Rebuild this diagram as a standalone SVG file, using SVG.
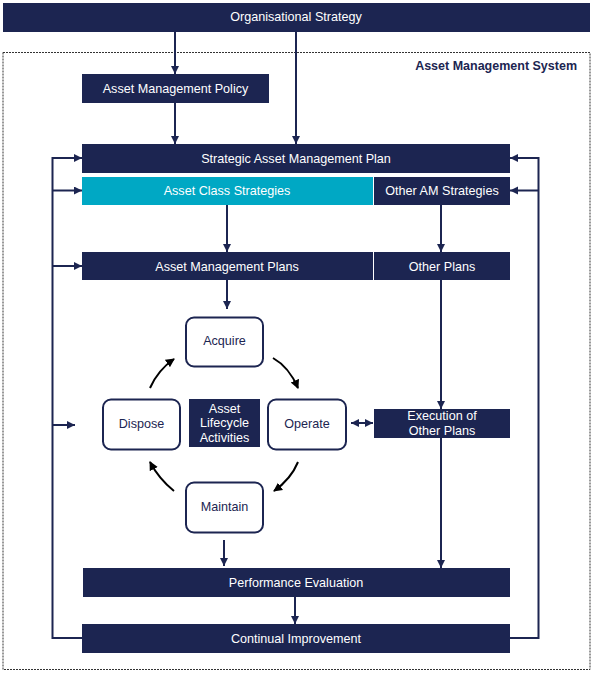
<svg xmlns="http://www.w3.org/2000/svg" width="594" height="675" viewBox="0 0 594 675">
<style>
.bar{fill:#1c2551}
.cyan{fill:#00a8c4}
.wt{fill:#fff;font-family:"Liberation Sans",Arial,sans-serif;font-size:12.6px;text-anchor:middle}
.nt{fill:#1c2551;font-family:"Liberation Sans",Arial,sans-serif;font-size:12.6px;text-anchor:middle}
.rr{fill:#fff;stroke:#1c2551;stroke-width:2}
.ln{fill:none;stroke:#1c2551;stroke-width:2}
.cv{fill:none;stroke:#000;stroke-width:2}
</style>
<defs>
<marker id="ah" markerUnits="userSpaceOnUse" markerWidth="9" markerHeight="9" refX="8" refY="4" orient="auto"><path d="M0,0 L8,4 L0,8 z" fill="#1c2551"/></marker>
<marker id="ahs" markerUnits="userSpaceOnUse" markerWidth="9" markerHeight="9" refX="0" refY="4" orient="auto"><path d="M8,0 L0,4 L8,8 z" fill="#1c2551"/></marker>
<marker id="bh" markerUnits="userSpaceOnUse" markerWidth="10" markerHeight="10" refX="8" refY="4.5" orient="auto"><path d="M0,0 L9,4.5 L0,9 z" fill="#000"/></marker>
</defs>
<rect width="594" height="675" fill="#fff"/>
<rect x="3" y="52.5" width="587" height="617" fill="none" stroke="#333" stroke-width="1" stroke-dasharray="2,1"/>
<text x="577" y="70" font-family="'Liberation Sans',Arial,sans-serif" font-size="12.5" font-weight="bold" fill="#1c2551" text-anchor="end">Asset Management System</text>

<g id="connectors">
<line class="ln" x1="175" y1="32" x2="175" y2="74" marker-end="url(#ah)"/>
<line class="ln" x1="296" y1="32" x2="296" y2="144" marker-end="url(#ah)"/>
<line class="ln" x1="175" y1="103" x2="175" y2="144" marker-end="url(#ah)"/>
<line class="ln" x1="227" y1="205" x2="227" y2="252" marker-end="url(#ah)"/>
<line class="ln" x1="441" y1="205" x2="441" y2="252" marker-end="url(#ah)"/>
<line class="ln" x1="227" y1="280" x2="227" y2="309" marker-end="url(#ah)"/>
<line class="ln" x1="441" y1="280" x2="441" y2="409" marker-end="url(#ah)"/>
<line class="ln" x1="441" y1="438" x2="441" y2="568" marker-end="url(#ah)"/>
<line class="ln" x1="224" y1="540" x2="224" y2="566" marker-end="url(#ah)"/>
<line class="ln" x1="295" y1="597" x2="295" y2="624" marker-end="url(#ah)"/>
<polyline class="ln" points="82,638 52.5,638 52.5,158 82,158" marker-end="url(#ah)"/>
<line class="ln" x1="52.5" y1="190.5" x2="82" y2="190.5" marker-end="url(#ah)"/>
<line class="ln" x1="52.5" y1="266" x2="82" y2="266" marker-end="url(#ah)"/>
<line class="ln" x1="52.5" y1="425" x2="75" y2="425" marker-end="url(#ah)"/>
<polyline class="ln" points="510,638 538.5,638 538.5,158 510,158" marker-end="url(#ah)"/>
<line class="ln" x1="538.5" y1="190.5" x2="510" y2="190.5" marker-end="url(#ah)"/>
<line class="ln" x1="351" y1="423" x2="373" y2="423" marker-start="url(#ahs)" marker-end="url(#ah)"/>
<path class="cv" d="M273,358 Q289,367 298,388" marker-end="url(#bh)"/>
<path class="cv" d="M298,462 Q291,479 274,491" marker-end="url(#bh)"/>
<path class="cv" d="M174,491 Q159,479 150,462" marker-end="url(#bh)"/>
<path class="cv" d="M150,388 Q158,370 174,359" marker-end="url(#bh)"/>
</g>

<g id="org-strategy"><rect class="bar" x="3" y="3" width="587" height="29"/><text class="wt" x="296" y="21">Organisational Strategy</text></g>
<g id="am-policy"><rect class="bar" x="82" y="74" width="187" height="29"/><text class="wt" x="175.5" y="92.5">Asset Management Policy</text></g>
<g id="samp"><rect class="bar" x="82" y="144" width="428" height="29"/><text class="wt" x="296" y="162.5">Strategic Asset Management Plan</text></g>
<g id="asset-class-strategies"><rect class="cyan" x="82" y="177" width="291" height="28"/><text class="wt" x="227" y="195">Asset Class Strategies</text></g>
<g id="other-am-strategies"><rect class="bar" x="374" y="177" width="136" height="28"/><text class="wt" x="442" y="195">Other AM Strategies</text></g>
<g id="am-plans"><rect class="bar" x="82" y="252" width="291" height="28"/><text class="wt" x="227" y="270.5">Asset Management Plans</text></g>
<g id="other-plans"><rect class="bar" x="374" y="252" width="136" height="28"/><text class="wt" x="442" y="270.5">Other Plans</text></g>
<g id="acquire"><rect class="rr" x="186" y="317.5" width="77" height="49" rx="8"/><text class="nt" x="224.5" y="345">Acquire</text></g>
<g id="dispose"><rect class="rr" x="103" y="399.5" width="77" height="50" rx="8"/><text class="nt" x="141.5" y="428">Dispose</text></g>
<g id="operate"><rect class="rr" x="268" y="399.5" width="78" height="50" rx="8"/><text class="nt" x="307" y="428">Operate</text></g>
<g id="maintain"><rect class="rr" x="186" y="482.5" width="77" height="50" rx="8"/><text class="nt" x="224.5" y="511">Maintain</text></g>
<g id="lifecycle"><rect class="bar" x="189" y="399" width="71" height="48"/><text class="wt" x="224.5" y="412.5">Asset</text><text class="wt" x="224.5" y="427">Lifecycle</text><text class="wt" x="224.5" y="441.5">Activities</text></g>
<g id="execution"><rect class="bar" x="374" y="409" width="136" height="29"/><text class="wt" x="442" y="420">Execution of</text><text class="wt" x="442" y="435">Other Plans</text></g>
<g id="performance"><rect class="bar" x="83" y="568" width="427" height="29"/><text class="wt" x="296" y="586.5">Performance Evaluation</text></g>
<g id="improvement"><rect class="bar" x="82" y="624" width="428" height="29"/><text class="wt" x="296" y="642.5">Continual Improvement</text></g>
</svg>
